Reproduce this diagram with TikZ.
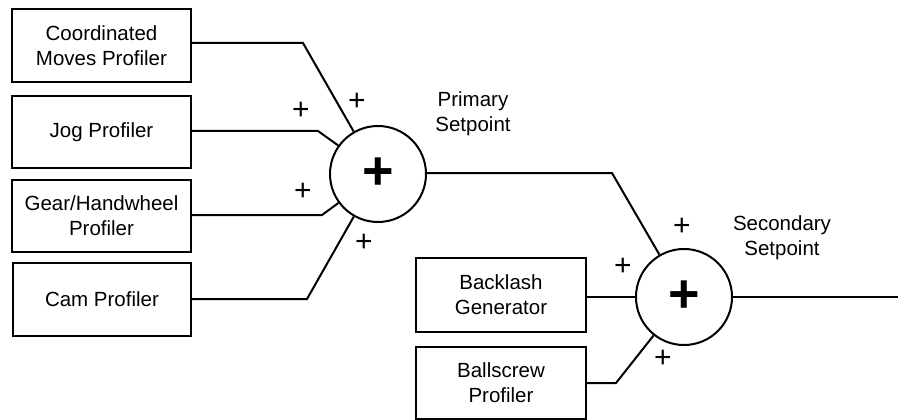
\documentclass[tikz,border=0pt]{standalone}
\usepackage{fontspec}
\setmainfont{Liberation Sans}
\begin{document}
\begin{tikzpicture}[x=1pt,y=-1pt,
  lbl/.style={font=\fontsize{20.5}{25}\selectfont,align=center},
  blk/.style={draw,line width=2pt,inner sep=0pt,lbl},
  sumc/.style={draw,circle,line width=2pt,minimum size=96pt,inner sep=0pt,font=\fontsize{54}{54}\selectfont\bfseries},
  pl/.style={inner sep=0pt,font=\fontsize{30}{30}\selectfont},
  wire/.style={line width=2pt}]
\useasboundingbox (0,0) rectangle (898,420);
% left blocks
\node[blk,minimum width=179pt,minimum height=73pt] (b1) at (101.5,45.5) {Coordinated\\Moves Profiler};
\node[blk,minimum width=179pt,minimum height=72pt] (b2) at (101.5,132) {Jog Profiler};
\node[blk,minimum width=179pt,minimum height=72pt] (b3) at (101.5,216) {Gear/Handwheel\\Profiler};
\node[blk,minimum width=178pt,minimum height=73pt] (b4) at (102,299.5) {Cam Profiler};
% summing junctions
\node[sumc] (s1) at (378,174) {+};
\node[sumc] (s2) at (684,297) {+};
% right blocks
\node[blk,minimum width=170pt,minimum height=74pt] (bk) at (501,295) {Backlash\\Generator};
\node[blk,minimum width=170pt,minimum height=72pt] (bs) at (501,383) {Ballscrew\\Profiler};
% bends
\coordinate (c1) at (303,43);
\coordinate (c2) at (318,131);
\coordinate (c3) at (322,215);
\coordinate (c4) at (307,299);
\coordinate (c5) at (612,173);
\coordinate (c6) at (616,383);
\coordinate (out) at (898,297);
% wires
\draw[wire] (b1.east |- c1) -- (c1) -- (s1);
\draw[wire] (b2.east |- c2) -- (c2) -- (s1);
\draw[wire] (b3.east |- c3) -- (c3) -- (s1);
\draw[wire] (b4.east |- c4) -- (c4) -- (s1);
\draw[wire] (s1.east |- c5) -- (c5) -- (s2);
\draw[wire] (bk.east |- s2) -- (s2);
\draw[wire] (bs.east |- c6) -- (c6) -- (s2);
\draw[wire] (s2.east) -- (out);
% signs
\node[pl] (p1) at (357,102) {+};
\node[pl] (p2) at (301,111) {+};
\node[pl] (p3) at (303,192) {+};
\node[pl] (p4) at (364,243) {+};
\node[pl] (p5) at (682,227) {+};
\node[pl] (p6) at (623,267) {+};
\node[pl] (p7) at (663,359) {+};
% setpoint labels
\node[lbl] (ps) at (473,114) {Primary\\Setpoint};
\node[lbl] (ss) at (782,238) {Secondary\\Setpoint};
\end{tikzpicture}
\end{document}
